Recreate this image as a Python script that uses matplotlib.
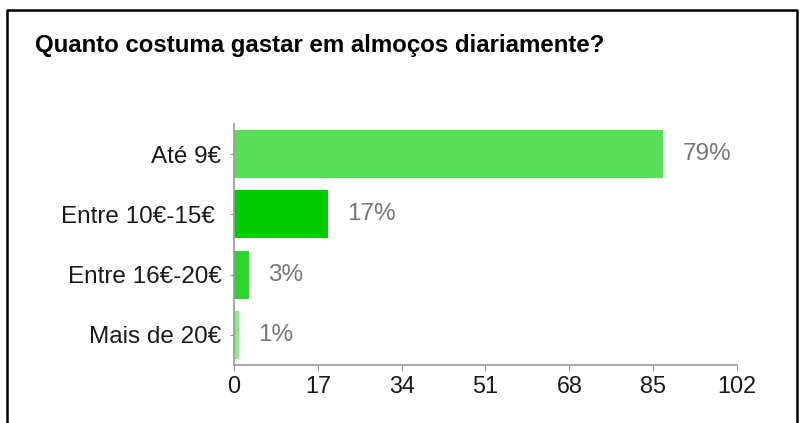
import matplotlib.pyplot as plt
from matplotlib.lines import Line2D

plt.rcParams['font.family'] = ['Liberation Sans', 'DejaVu Sans']

categorias = ["Até 9€", "Entre 10€-15€ ", "Entre 16€-20€", "Mais de 20€"]
respostas = [87, 19, 3, 1]
percentagens = ["79%", "17%", "3%", "1%"]
cores = ["#57e057", "#00cc00", "#2ed42e", "#88ec88"]
xticks = [0, 17, 34, 51, 68, 85, 102]

fig = plt.figure(figsize=(8.05, 4.23), dpi=100)
ax = fig.add_axes([0.2907, 0.137, 0.6248, 0.570])

y = list(range(len(categorias)))
ax.barh(y, respostas, height=0.8, color=cores, edgecolor="none")
for yi, v, txt in zip(y, respostas, percentagens):
    ax.annotate(txt, (v, yi), xytext=(14, 0), textcoords="offset points",
                va="center", ha="left", fontsize=17.5, color="#777777")

ax.set_ylim(3.5, -0.5)
ax.set_xlim(0, 102)
ax.set_xticks(xticks)
ax.set_yticks(y)
ax.set_yticklabels(categorias)

for s in ["top", "right"]:
    ax.spines[s].set_visible(False)
for s in ["left", "bottom"]:
    ax.spines[s].set_color("#999999")
    ax.spines[s].set_linewidth(1.2)
ax.tick_params(axis="x", length=4, color="#999999", labelsize=16.8, labelcolor="#1a1a1a", pad=3)
ax.tick_params(axis="y", length=3, color="#999999", labelsize=17.5, labelcolor="#1a1a1a", pad=6)

fig.text(0.0435, 0.892, "Quanto costuma gastar em almoços diariamente?",
         fontsize=17.3, fontweight="bold", color="#000000", va="center", ha="left")

# moldura preta
fig.add_artist(Line2D([0.0087, 0.0087, 0.990, 0.990], [0.0, 0.9764, 0.9764, 0.0],
                      transform=fig.transFigure, color="black", linewidth=1.8))

fig.savefig("out.png", dpi=100)
